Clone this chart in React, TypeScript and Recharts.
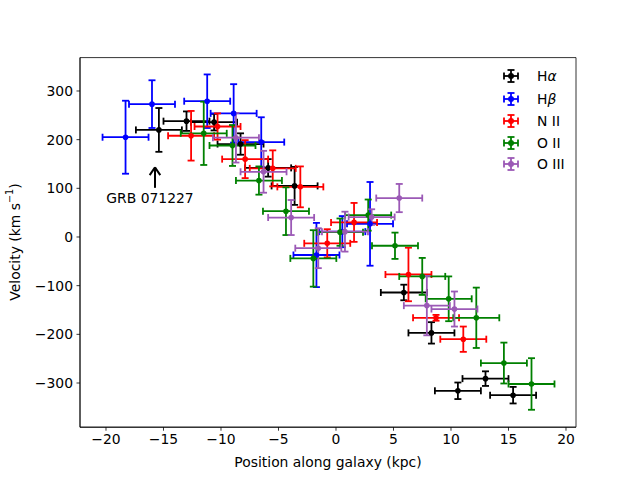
import React from "react";
import {
  ScatterChart,
  Scatter,
  XAxis,
  YAxis,
  ErrorBar,
  ReferenceLine,
  ReferenceArea,
} from "recharts";

// H-alpha
const haX = [-15.4, -13.0, -10.6, -8.3, -5.9, -3.6, 5.9, 8.3, 10.6, 13.0, 15.4];
const haY = [220, 238, 236, 191, 142, 105, -114, -197, -316, -291, -325];
const haYErr = [45, 20, 17, 22, 18, 39, 16, 22, 17, 15, 17];
const haXErr = [2, 2, 2, 2, 2, 2, 2, 2, 2, 2, 2];

// H-beta
const hbX = [-18.3, -16.0, -11.2, -8.9, -6.5, -1.7, 0.55, 2.96];
const hbY = [205, 273, 279, 254, 195, -37, 11, 27];
const hbYErr = [75, 49, 55, 60, 51, 66, 32, 86];
const hbXErr = [2, 2, 2, 2, 2, 2, 2, 2];

// N II
const n2X = [-12.6, -10.3, -7.9, -5.5, -3.1, -0.76, 1.57, 6.3, 8.7, 11.07];
const n2Y = [208, 227, 160, 141, 103, -13, 30, -77, -166, -210];
const n2YErr = [51, 27, 39, 37, 42, 29, 40, 55, 6, 26];
const n2XErr = [2, 2, 2, 2, 2, 2, 2, 2, 2, 2];

// O II
const o2X = [-11.5, -9.0, -6.7, -4.35, -1.97, 0.35, 2.8, 5.13, 7.5, 9.8, 12.2, 14.6, 17.0];
const o2Y = [213, 188, 116, 53, -44, 10, 45, -18, -81, -127, -166, -259, -302];
const o2YErr = [65, 42, 29, 49, 58, 28, 32, 27, 38, 46, 62, 42, 53];
const o2XErr = [2, 2, 2, 2, 2, 2, 2, 2, 2, 2, 2, 2, 2];

// O III
const o3X = [-8.7, -6.3, -3.9, -1.54, 0.78, 3.1, 5.5, 7.9, 10.3];
const o3Y = [204, 134, 40, -23, 11, 41, 80, -141, -148];
const o3YErr = [51, 43, 36, 41, 41, 16, 29, 61, 36];
const o3XErr = [2, 2, 2, 2, 2, 2, 2, 2, 2];

const xTicks = [-20, -15, -10, -5, 0, 5, 10, 15, 20];
const yTicks = [-300, -200, -100, 0, 100, 200, 300];
const xDomain = [-22.26, 20.87];
const yDomain = [-390.8, 368.6];

const FONT = "DejaVu Sans";

const rows = (xs: number[], ys: number[], yerr: number[], xerr: number[]) =>
  xs.map((x, i) => ({ x, y: ys[i], yerr: yerr[i], xerr: xerr[i] }));

const series = [
  { name: "Hα", color: "#000000", data: rows(haX, haY, haYErr, haXErr) },
  { name: "Hβ", color: "#0000ff", data: rows(hbX, hbY, hbYErr, hbXErr) },
  { name: "N II", color: "#ff0000", data: rows(n2X, n2Y, n2YErr, n2XErr) },
  { name: "O II", color: "#008000", data: rows(o2X, o2Y, o2YErr, o2XErr) },
  { name: "O III", color: "#9b59b6", data: rows(o3X, o3Y, o3YErr, o3XErr) },
];

const minus = (v: number) => String(v).replace("-", "\u2212");

const tickStyle = { fill: "#000", fontSize: 13.9, fontFamily: FONT };

function LegendIcon({ cy, color }: { cy: number; color: string }) {
  const cx = 511;
  return (
    <g stroke={color} strokeWidth={1.8} fill={color}>
      <line x1={cx - 7} y1={cy} x2={cx + 7} y2={cy} />
      <line x1={cx - 7} y1={cy - 3.5} x2={cx - 7} y2={cy + 3.5} />
      <line x1={cx + 7} y1={cy - 3.5} x2={cx + 7} y2={cy + 3.5} />
      <line x1={cx} y1={cy - 6} x2={cx} y2={cy + 6} />
      <line x1={cx - 3.5} y1={cy - 6} x2={cx + 3.5} y2={cy - 6} />
      <line x1={cx - 3.5} y1={cy + 6} x2={cx + 3.5} y2={cy + 6} />
      <circle cx={cx} cy={cy} r={3} stroke="none" />
    </g>
  );
}

function LegendLabel({ name }: { name: string }) {
  if (name.startsWith("H")) {
    return (
      <>
        H<tspan fontStyle="italic">{name.slice(1)}</tspan>
      </>
    );
  }
  return <>{name}</>;
}

const arrowStyle = { stroke: "#000", strokeWidth: 2, strokeOpacity: 1 };

export default function App() {
  const legendRows = [76, 99, 121, 143, 164];
  return (
    <div style={{ position: "absolute", left: 0, top: 0, width: 640, height: 480, background: "#fff" }}>
      <ScatterChart
        width={640}
        height={480}
        margin={{ top: 57.6, right: 64, bottom: 0, left: 0 }}
      >
        <XAxis
          type="number"
          dataKey="x"
          domain={xDomain}
          ticks={xTicks}
          allowDataOverflow
          height={52.8}
          tick={tickStyle}
          tickFormatter={minus}
          tickSize={3.5}
          tickMargin={3.5}
          tickLine={{ stroke: "#000", strokeWidth: 0.8 }}
          axisLine={{ stroke: "#000", strokeWidth: 0.8 }}
        />
        <YAxis
          type="number"
          dataKey="y"
          domain={yDomain}
          ticks={yTicks}
          allowDataOverflow
          width={80}
          tick={tickStyle}
          tickFormatter={minus}
          tickSize={3.5}
          tickMargin={3.5}
          tickLine={{ stroke: "#000", strokeWidth: 0.8 }}
          axisLine={{ stroke: "#000", strokeWidth: 0.8 }}
        />
        <ReferenceArea
          x1={xDomain[0]}
          x2={xDomain[1]}
          y1={yDomain[0]}
          y2={yDomain[1]}
          fill="none"
          fillOpacity={0}
          stroke="#000"
          strokeWidth={0.8}
          strokeOpacity={1}
        />
        {series.map((s) => (
          <Scatter
            key={s.name}
            name={s.name}
            data={s.data}
            fill={s.color}
            isAnimationActive={false}
            shape={(p: any) => <circle cx={p.cx} cy={p.cy} r={2.8} fill={s.color} />}
          >
            <ErrorBar dataKey="xerr" direction="x" stroke={s.color} strokeWidth={1.8} width={3.5} />
            <ErrorBar dataKey="yerr" direction="y" stroke={s.color} strokeWidth={1.8} width={3.5} />
          </Scatter>
        ))}
        {/* GRB annotation arrow */}
        <ReferenceLine segment={[{ x: -15.74, y: 101 }, { x: -15.74, y: 143 }]} {...arrowStyle} />
        <ReferenceLine segment={[{ x: -16.2, y: 127 }, { x: -15.74, y: 143 }]} {...arrowStyle} />
        <ReferenceLine segment={[{ x: -15.28, y: 127 }, { x: -15.74, y: 143 }]} {...arrowStyle} />
      </ScatterChart>
      <svg
        width={640}
        height={480}
        style={{ position: "absolute", left: 0, top: 0, pointerEvents: "none" }}
        fontFamily={FONT}
        fontSize={13.9}
      >
        <text x={150} y={198} textAnchor="middle" dominantBaseline="central">
          GRB 071227
        </text>
        <text x={328} y={462} textAnchor="middle" dominantBaseline="central">
          Position along galaxy (kpc)
        </text>
        <text
          x={15}
          y={242}
          textAnchor="middle"
          dominantBaseline="central"
          transform="rotate(-90 15 242)"
        >
          Velocity (km s<tspan baselineShift="super" fontSize={9.7}>{"\u22121"}</tspan>)
        </text>
        {series.map((s, i) => (
          <g key={s.name}>
            <LegendIcon cy={legendRows[i]} color={s.color} />
            <text x={537} y={legendRows[i]} dominantBaseline="central">
              <LegendLabel name={s.name} />
            </text>
          </g>
        ))}
      </svg>
    </div>
  );
}
